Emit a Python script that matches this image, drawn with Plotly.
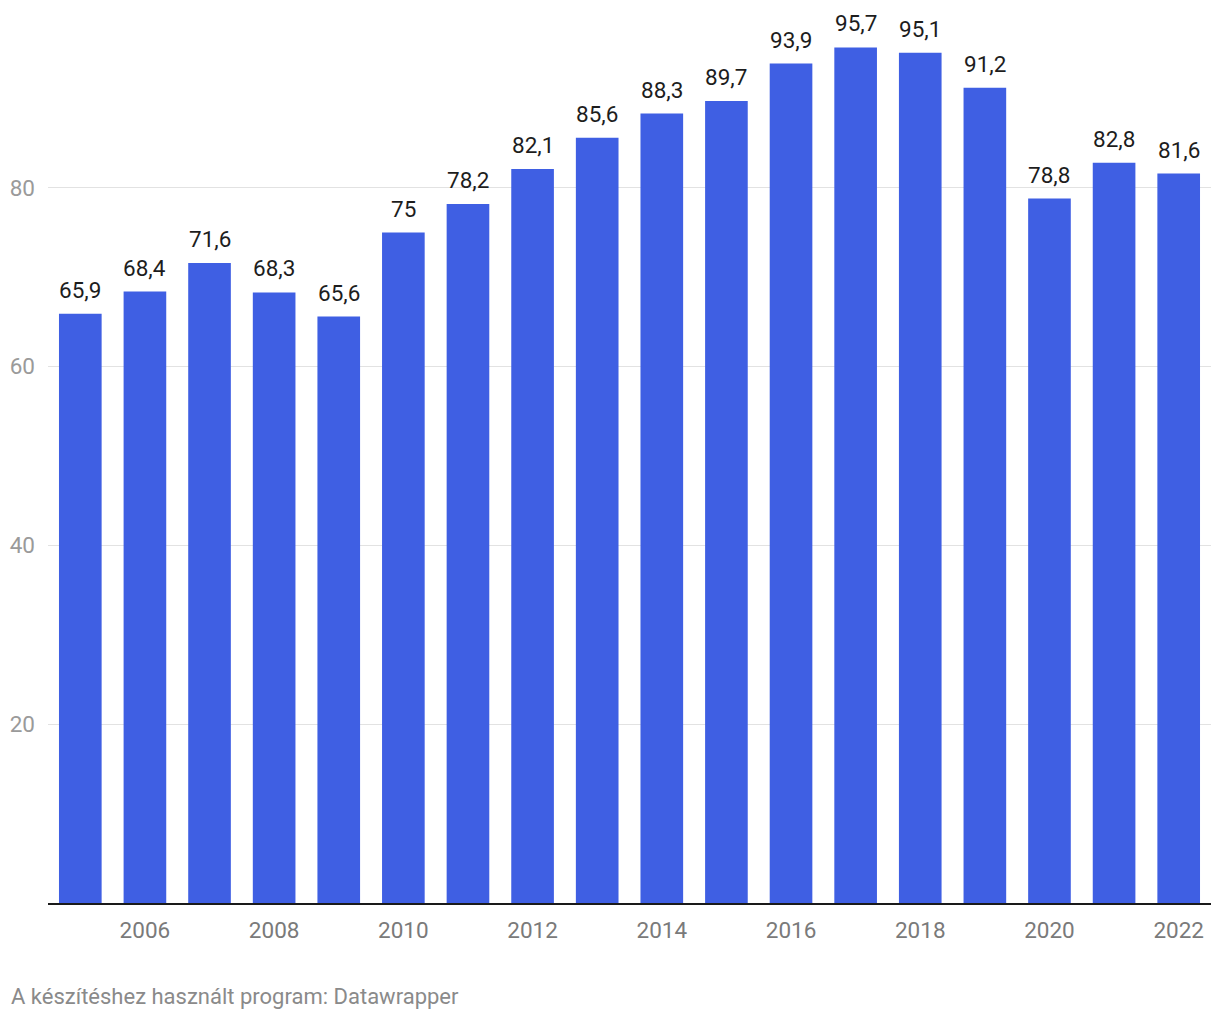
import plotly.graph_objects as go

years = list(range(2005, 2023))
values = [65.9, 68.4, 71.6, 68.3, 65.6, 75, 78.2, 82.1, 85.6, 88.3, 89.7, 93.9, 95.7, 95.1, 91.2, 78.8, 82.8, 81.6]
y_ticks = [20, 40, 60, 80]
x_ticks = [2006, 2008, 2010, 2012, 2014, 2016, 2018, 2020, 2022]

labels = [("%g" % v).replace(".", ",") for v in values]

fig = go.Figure(go.Bar(
    x=years, y=values,
    marker=dict(color="#3f5fe3", line=dict(width=0)),
    width=0.66, hoverinfo="skip",
))

annotations = [dict(x=x, y=v, text=t, xref="x", yref="y", showarrow=False,
                    xanchor="center", yanchor="bottom", yshift=9,
                    font=dict(family="Roboto", size=22.5, color="#1d1d1d"))
               for x, v, t in zip(years, values, labels)]

# page body has an 8px default margin; figure is sized to fit the 1220x1020 window
W, H = 1212, 1012
fig.update_layout(
    width=W, height=H,
    margin=dict(l=40, r=9, t=1, b=116.5),
    paper_bgcolor="white", plot_bgcolor="white",
    showlegend=False,
    font=dict(family="Roboto"),
    xaxis=dict(range=[2004.5, 2022.5], tickvals=x_ticks, ticktext=[str(t) for t in x_ticks],
               showgrid=False, showline=True, linecolor="#1a1a1a", linewidth=2,
               ticks="", ticklabelstandoff=6, tickfont=dict(family="Roboto", size=22.5, color="#7a7a7a"),
               zeroline=False, fixedrange=True),
    yaxis=dict(range=[0, 100], tickvals=y_ticks, ticktext=[str(t) for t in y_ticks],
               showgrid=True, gridcolor="#e2e2e2", gridwidth=1, zeroline=False,
               ticks="", ticklabelstandoff=12, tickfont=dict(family="Roboto", size=22.5, color="#9a9a9a"),
               fixedrange=True),
    annotations=annotations + [dict(text="A készítéshez használt program: Datawrapper", xref="paper", yref="paper",
                      x=-39/1163, y=-(1012-903.5)/894.5, xanchor="left", yanchor="bottom",
                      showarrow=False, font=dict(family="Roboto", size=22, color="#8a8a8a"))],
)

fig.write_html("out.html")
